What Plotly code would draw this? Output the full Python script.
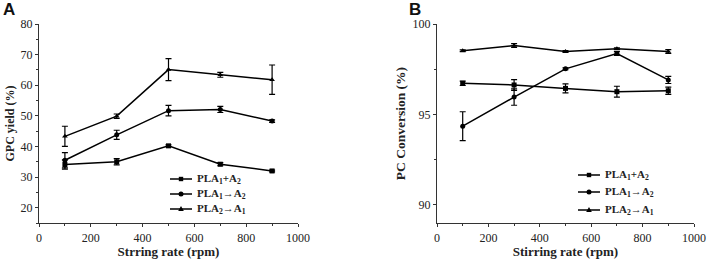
import plotly.graph_objects as go

rpm = [100, 300, 500, 700, 900]
names = ["PLA<sub>1</sub>+A<sub>2</sub>", "PLA<sub>1</sub>→A<sub>2</sub>", "PLA<sub>2</sub>→A<sub>1</sub>"]
symbols = ["square", "circle", "triangle-up"]

# Panel A: GPC yield (%)
a_sq = [34.1, 35.0, 40.2, 34.2, 32.0]
a_sq_err = [1.5, 1.0, 0.3, 0.5, 0.3]
a_ci = [35.5, 43.8, 51.7, 52.1, 48.3]
a_ci_err = [2.5, 1.5, 1.7, 1.0, 0.4]
a_tr = [43.3, 49.9, 65.1, 63.4, 61.8]
a_tr_err = [3.3, 0.7, 3.6, 0.8, 4.8]

# Panel B: PC conversion (%)
b_sq = [96.72, 96.63, 96.44, 96.26, 96.31]
b_sq_err = [0.12, 0.3, 0.25, 0.3, 0.2]
b_ci = [94.35, 95.96, 97.52, 98.37, 96.91]
b_ci_err = [0.8, 0.45, 0.05, 0.1, 0.2]
b_tr = [98.52, 98.81, 98.48, 98.63, 98.48]
b_tr_err = [0.05, 0.1, 0.05, 0.05, 0.1]

fig = go.Figure()
serif = "Liberation Serif"
W, H = 708, 261
ML, MR, MT, MB = 39, 14, 24, 38
PW, PH = W - ML - MR, H - MT - MB

def px(x):
    return (x - ML) / PW

def py(y):
    return (H - MB - y) / PH

def add(x, y, e, i, xa, ya):
    fig.add_trace(go.Scatter(
        x=x, y=y, mode="lines+markers", name=names[i],
        xaxis=xa, yaxis=ya, showlegend=False,
        line=dict(color="black", width=1.5),
        marker=dict(symbol=symbols[i], size=5, color="black"),
        error_y=dict(type="data", array=e, visible=True, color="black", thickness=1.2, width=3),
    ))

add(rpm, a_sq, a_sq_err, 0, "x", "y")
add(rpm, a_ci, a_ci_err, 1, "x", "y")
add(rpm, a_tr, a_tr_err, 2, "x", "y")
add(rpm, b_sq, b_sq_err, 0, "x2", "y2")
add(rpm, b_ci, b_ci_err, 1, "x2", "y2")
add(rpm, b_tr, b_tr_err, 2, "x2", "y2")

axis_common = dict(showline=True, linecolor="#333", linewidth=1.2, ticks="outside",
                   ticklen=3, tickcolor="#333", showgrid=False, zeroline=False, automargin=False,
                   tickfont=dict(family=serif, size=12, color="#222"))

title_font = dict(family=serif, size=13, color="#222")

# manual legends (line + marker glyph + label)
shapes = []
annotations = []

def legend_block(x0, ys):
    for i, yc in enumerate(ys):
        shapes.append(dict(type="line", xref="paper", yref="paper",
                           x0=px(x0), x1=px(x0 + 22), y0=py(yc), y1=py(yc),
                           line=dict(color="black", width=1.5)))
        cx = x0 + 11
        if symbols[i] == "square":
            shapes.append(dict(type="rect", xref="paper", yref="paper",
                               x0=px(cx - 2.2), x1=px(cx + 2.2), y0=py(yc + 2.2), y1=py(yc - 2.2),
                               fillcolor="black", line=dict(width=0)))
        elif symbols[i] == "circle":
            shapes.append(dict(type="circle", xref="paper", yref="paper",
                               x0=px(cx - 2.5), x1=px(cx + 2.5), y0=py(yc + 2.5), y1=py(yc - 2.5),
                               fillcolor="black", line=dict(width=0)))
        else:
            shapes.append(dict(type="path", xref="paper", yref="paper",
                               path=f"M {px(cx-2.8)} {py(yc+2)} L {px(cx+2.8)} {py(yc+2)} L {px(cx)} {py(yc-3)} Z",
                               fillcolor="black", line=dict(width=0)))
        annotations.append(dict(text="<b>" + names[i] + "</b>", xref="paper", yref="paper",
                                x=px(x0 + 25), y=py(yc), xanchor="left", yanchor="middle",
                                showarrow=False, font=dict(family=serif, size=11, color="#222")))

legend_block(170, [179, 194, 209])
legend_block(578, [175, 192, 210])

annotations += [
    dict(text="<b>A</b>", x=px(1), y=py(10), xref="paper", yref="paper", xanchor="left", yanchor="middle",
         showarrow=False, font=dict(family="Liberation Sans", size=17, color="#111")),
    dict(text="<b>B</b>", x=px(407), y=py(10), xref="paper", yref="paper", xanchor="left", yanchor="middle",
         showarrow=False, font=dict(family="Liberation Sans", size=17, color="#111")),
]

fig.update_layout(
    width=W, height=H,
    margin=dict(l=ML, r=MR, t=MT, b=MB),
    paper_bgcolor="white", plot_bgcolor="white",
    showlegend=False,
    xaxis=dict(domain=[0, px(298)], range=[0, 1000], dtick=200,
               minor=dict(ticks="outside", ticklen=2, dtick=100, tickcolor="#333"),
               title=dict(text="<b>Strring rate (rpm)</b>", font=title_font, standoff=2),
               anchor="y", **axis_common),
    yaxis=dict(domain=[0, 1], range=[15, 80], dtick=10,
               minor=dict(ticks="outside", ticklen=2, dtick=5, tickcolor="#333"),
               title=dict(text="<b>GPC yield (%)</b>", font=dict(family=serif, size=12, color="#222"), standoff=3),
               anchor="x", **axis_common),
    xaxis2=dict(domain=[px(437), 1], range=[0, 1000], dtick=200,
                minor=dict(ticks="outside", ticklen=2, dtick=100, tickcolor="#333"),
                title=dict(text="<b>Stirring rate (rpm)</b>", font=title_font, standoff=2),
                anchor="y2", **axis_common),
    yaxis2=dict(domain=[0, 1], range=[89, 100], tickvals=[90, 95, 100],
                minor=dict(ticks="outside", ticklen=2, tickvals=[92.5, 97.5], tickcolor="#333"),
                title=dict(text="<b>PC Conversion (%)</b>", font=dict(family=serif, size=13.5, color="#222"), standoff=3),
                anchor="x2", **axis_common),
    shapes=shapes,
    annotations=annotations,
)

fig.write_html("out.html", config={"displayModeBar": False},
               post_script="document.body.style.margin='0';document.body.style.overflow='hidden';")
